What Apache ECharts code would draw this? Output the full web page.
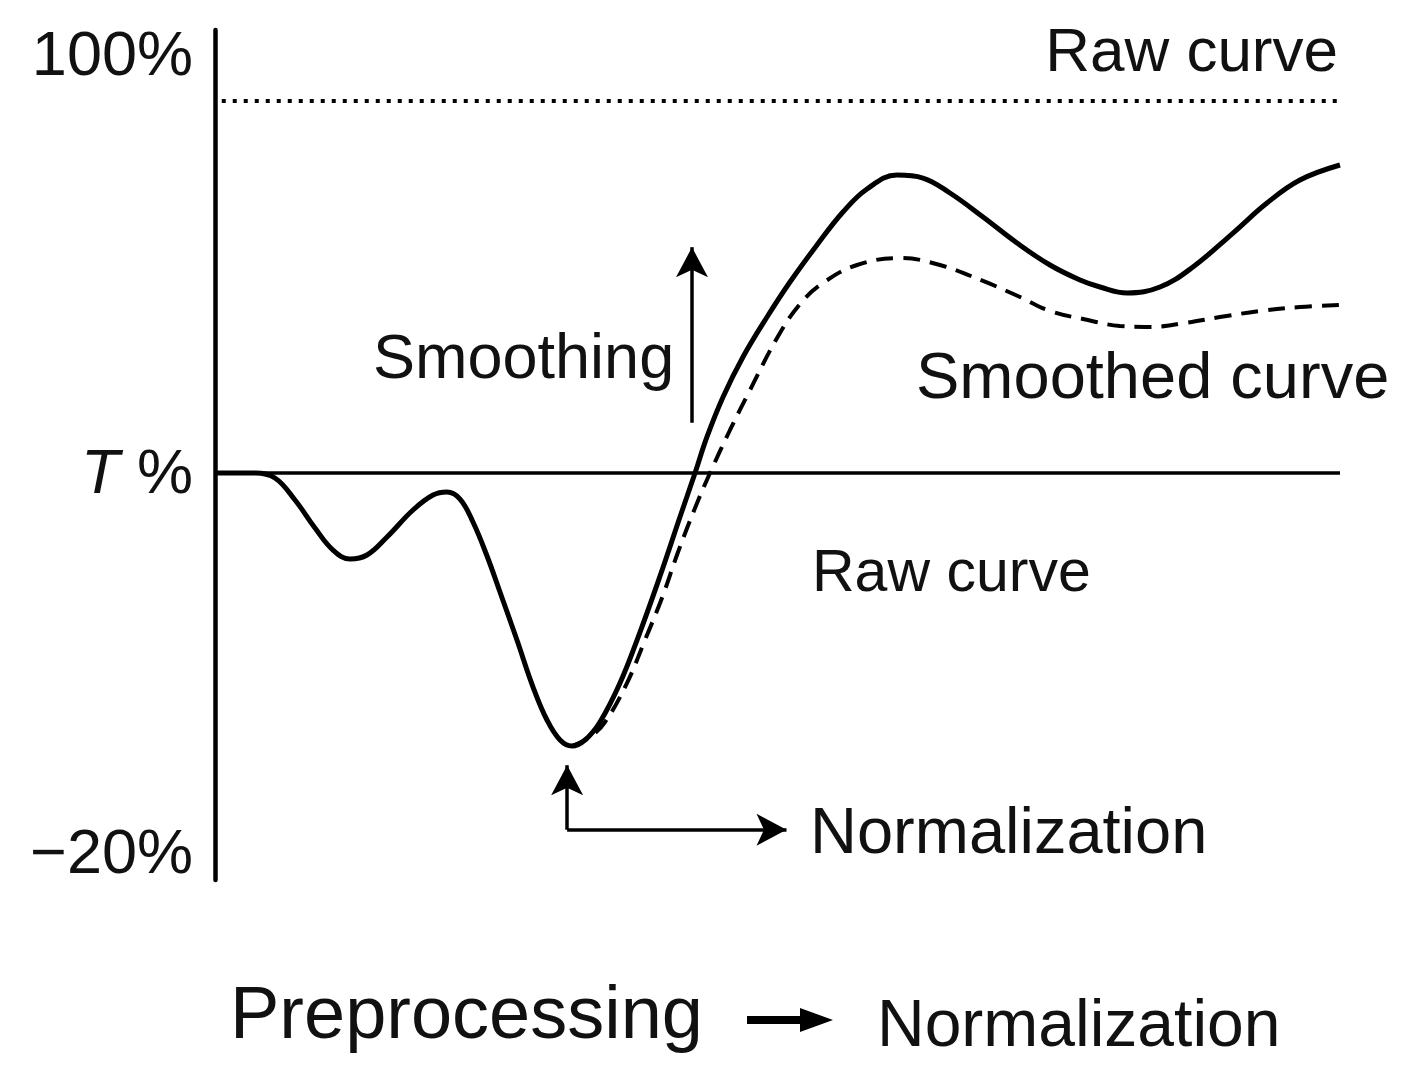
<!DOCTYPE html>
<html>
<head>
<meta charset="utf-8">
<script src="https://cdn.jsdelivr.net/npm/echarts@6/dist/echarts.min.js"></script>
<style>
html,body{margin:0;padding:0;background:#fff;}
#chart{width:1413px;height:1079px;}
</style>
</head>
<body>
<div id="chart"></div>
<script>
// ---- data (x: 0-100 along the processing axis, y: percent) ----
const tLevel = 37.14;         // the "T %" level
const upperLevel = 93.1;      // dotted upper reference line
const yTickValues = [-20, tLevel, 100];
const yTickLabels = ['\u221220%', '{it|T} %', '100%'];

const rawX = [0, 3.56, 5.33, 7.11, 8.89, 10.49, 12.00, 13.51, 15.29, 17.60, 19.38, 20.62, 21.78, 22.93, 24.18, 25.33, 26.84, 28.27, 29.51, 30.67, 31.73, 32.89, 34.22, 36.00, 37.78, 39.56, 41.33, 42.67, 43.73, 45.16, 46.93, 49.07, 51.11, 53.51, 55.82, 57.96, 60.62, 62.93, 65.33, 68.27, 71.29, 74.22, 76.89, 78.67, 81.07, 84.00, 86.93, 90.49, 93.51, 96.44, 100];
const rawY = [37.14, 37.14, 36.39, 33.08, 28.87, 25.56, 24.21, 24.81, 27.52, 31.58, 33.83, 34.29, 33.23, 29.77, 24.66, 19.25, 12.03, 4.96, 0.0, -3.01, -3.91, -3.01, -0.30, 5.56, 13.23, 21.65, 30.53, 37.14, 42.56, 48.57, 54.59, 60.60, 65.86, 71.43, 76.39, 79.85, 81.95, 81.50, 79.25, 75.64, 71.73, 68.42, 66.17, 65.11, 64.21, 65.11, 68.12, 73.23, 77.74, 81.20, 83.46];

const smoothX = [31.73, 33.33, 34.67, 36.62, 38.22, 39.73, 41.16, 42.67, 44.00, 45.78, 47.56, 49.96, 52.00, 54.04, 57.07, 60.89, 64.44, 68.27, 71.56, 74.22, 77.16, 80.44, 83.11, 86.22, 89.33, 92.89, 96.44, 100];
const smoothY = [-3.91, -2.56, -0.30, 5.56, 12.03, 18.35, 25.26, 31.88, 37.14, 43.61, 49.62, 57.44, 62.56, 65.71, 68.42, 69.47, 68.42, 66.02, 63.61, 61.50, 60.30, 59.25, 59.10, 59.70, 60.60, 61.50, 62.11, 62.41];

const tLineX = [0, 100];
const upperLineX = [0.6, 100];

// annotation arrows, in data coordinates [x1, y1, x2, y2] (x2, y2 = arrow tip)
const smoothingArrow = [42.4, 44.7, 42.4, 71.1];
const normUpArrow = [31.3, -16.5, 31.3, -6.8];
const normRightArrow = [31.3, -16.5, 50.8, -16.5];

const FONT = '"Liberation Sans", Arial, sans-serif';

function pairs(xs, ys) { return xs.map((x, i) => [x, ys[i]]); }

const chart = echarts.init(document.getElementById('chart'), null, {renderer: 'canvas'});

function arrowLine(a) {
  return [{coord: [a[0], a[1]]}, {coord: [a[2], a[3]]}];
}

const option = {
  animation: false,
  backgroundColor: '#ffffff',
  grid: {left: 215, right: 73, top: 30, bottom: 199, containLabel: false},
  xAxis: {
    type: 'value', min: 0, max: 100, show: false
  },
  yAxis: {
    type: 'value', min: -24.06, max: 103.76,
    axisLine: {show: true, onZero: false, lineStyle: {color: '#000', width: 4.5}},
    axisTick: {show: false},
    splitLine: {show: false},
    axisLabel: {
      show: true,
      customValues: yTickValues,
      margin: 22,
      color: '#111',
      fontFamily: FONT,
      fontSize: 63,
      padding: [5, 0, 0, 0],
      formatter: function (v) {
        let best = 0, d = Infinity;
        yTickValues.forEach((t, i) => { const dd = Math.abs(t - v); if (dd < d) { d = dd; best = i; } });
        return yTickLabels[best];
      },
      rich: {
        it: {fontStyle: 'italic', fontFamily: FONT, fontSize: 63, color: '#111'}
      }
    }
  },
  series: [
    {
      name: 'T level', type: 'line', symbol: 'none', silent: true,
      data: pairs(tLineX, [tLevel, tLevel]),
      lineStyle: {color: '#000', width: 3.5}
    },
    {
      name: 'Upper raw', type: 'line', symbol: 'none', silent: true,
      data: pairs(upperLineX, [upperLevel, upperLevel]),
      lineStyle: {color: '#000', width: 4, type: [4, 7]}
    },
    {
      name: 'Smoothed curve', type: 'line', symbol: 'none', smooth: 0.4, silent: true,
      data: pairs(smoothX, smoothY),
      lineStyle: {color: '#000', width: 4, type: [17, 10]}
    },
    {
      name: 'Raw curve', type: 'line', symbol: 'none', smooth: 0.4, silent: true,
      data: pairs(rawX, rawY),
      lineStyle: {color: '#000', width: 5},
      markLine: {
        silent: true,
        symbol: ['none', 'arrow'],
        symbolSize: [24, 30],
        label: {show: false},
        lineStyle: {color: '#000', width: 3.5, type: 'solid'},
        emphasis: {disabled: true},
        data: [arrowLine(smoothingArrow), arrowLine(normUpArrow), arrowLine(normRightArrow)]
      }
    }
  ],
  graphic: [
    {type: 'text', x: 1338, y: 54, style: {text: 'Raw curve', font: '62px ' + FONT, fill: '#111', align: 'right', verticalAlign: 'middle'}},
    {type: 'text', x: 373, y: 361, style: {text: 'Smoothing', font: '63px ' + FONT, fill: '#111', align: 'left', verticalAlign: 'middle'}},
    {type: 'text', x: 916, y: 380, style: {text: 'Smoothed curve', font: '65px ' + FONT, fill: '#111', align: 'left', verticalAlign: 'middle'}},
    {type: 'text', x: 812, y: 575, style: {text: 'Raw curve', font: '59px ' + FONT, fill: '#111', align: 'left', verticalAlign: 'middle'}},
    {type: 'text', x: 810, y: 835, style: {text: 'Normalization', font: '65px ' + FONT, fill: '#111', align: 'left', verticalAlign: 'middle'}},
    {type: 'text', x: 230, y: 1018, style: {text: 'Preprocessing', font: '74px ' + FONT, fill: '#111', align: 'left', verticalAlign: 'middle'}},
    {type: 'text', x: 877, y: 1028, style: {text: 'Normalization', font: '66px ' + FONT, fill: '#111', align: 'left', verticalAlign: 'middle'}},
    {type: 'rect', shape: {x: 747, y: 1016, width: 58, height: 8}, style: {fill: '#000'}},
    {type: 'polygon', shape: {points: [[800, 1008], [833, 1020], [800, 1032]]}, style: {fill: '#000'}}
  ]
};

chart.setOption(option);
</script>
</body>
</html>
